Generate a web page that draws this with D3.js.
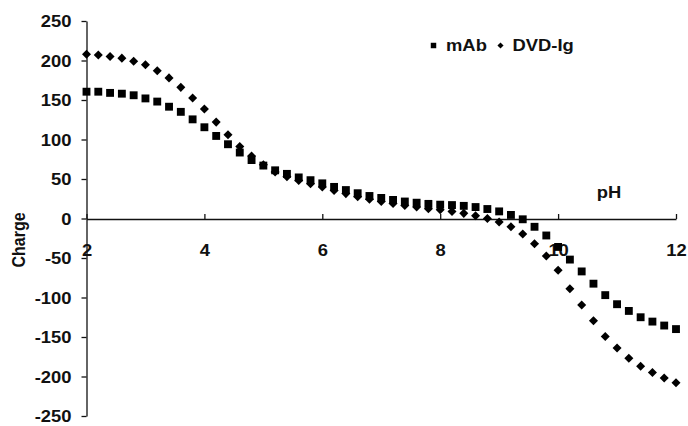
<!DOCTYPE html>
<html>
<head>
<meta charset="utf-8">
<script src="https://cdn.jsdelivr.net/npm/d3@7"></script>
<style>
  html, body { margin: 0; padding: 0; background: #fff; }
  svg { display: block; font-family: "Liberation Sans", Arial, sans-serif; font-weight: bold; }
</style>
</head>
<body>
<svg id="chart" width="688" height="426"></svg>
<script>
// pH titration points (0.2 pH steps)
const pH = [2.0, 2.2, 2.4, 2.6, 2.8, 3.0, 3.2, 3.4, 3.6, 3.8,
            4.0, 4.2, 4.4, 4.6, 4.8, 5.0, 5.2, 5.4, 5.6, 5.8,
            6.0, 6.2, 6.4, 6.6, 6.8, 7.0, 7.2, 7.4, 7.6, 7.8,
            8.0, 8.2, 8.4, 8.6, 8.8, 9.0, 9.2, 9.4, 9.6, 9.8,
            10.0, 10.2, 10.4, 10.6, 10.8, 11.0, 11.2, 11.4, 11.6, 11.8, 12.0];

// Net charge of the monoclonal antibody
const mAb = [160.5, 160.5, 159, 158, 156, 152, 148, 141.5, 135, 125.5,
             115.5, 104.5, 94, 83.5, 74, 67, 61, 56.5, 52, 48.5,
             44.5, 40, 36, 32, 28.5, 26, 23.5, 21.5, 20, 18.5,
             17.5, 17, 16, 14.5, 12, 9, 4.5, -1, -10.5, -21.5,
             -36, -52, -67, -82.5, -97, -108.5, -117, -125, -130.5, -135.5, -140];

// Net charge of the DVD-Ig molecule
const dvdIg = [208, 207, 205, 203, 199, 194.5, 187, 178, 166, 152.5,
               138.5, 122, 106, 91, 79, 68, 59, 53, 48, 44,
               40, 35.5, 31.5, 27.5, 24.5, 21.5, 19, 16.5, 14.5, 12.5,
               11, 9, 6.5, 3.5, 0, -4.5, -10.5, -19.5, -32, -47.5,
               -65.5, -89, -109.5, -129.5, -149.5, -164, -177, -187, -195, -202, -208];

const xTicks = [2, 4, 6, 8, 10, 12];
const yTicks = [250, 200, 150, 100, 50, 0, -50, -100, -150, -200, -250];
const seriesNames = ["mAb", "DVD-Ig"];

const svg = d3.select("#chart");
const ink = "#111";
const stretch = "scale(1.15,1)";
const plain = d => String(d);   // ASCII hyphen for negatives

const x = d3.scaleLinear().domain([2, 12]).range([86.5, 676]);
const y = d3.scaleLinear().domain([-250, 250]).range([416, 21]);

// Y axis on the left edge of the plot
const yAxis = svg.append("g")
  .attr("transform", `translate(${x(2)},0)`)
  .call(d3.axisLeft(y).tickValues(yTicks).tickFormat(plain)
    .tickSizeInner(5).tickSizeOuter(0).tickPadding(0));
yAxis.select(".domain").attr("stroke", ink).attr("stroke-width", 1.3);
yAxis.selectAll(".tick line").attr("stroke", ink).attr("stroke-width", 1.3);
yAxis.selectAll(".tick text")
  .attr("x", -13).attr("dy", "0.36em")
  .attr("transform", stretch)
  .attr("fill", ink).style("font-size", "16px").style("font-family", null).style("font-weight", "bold");

// X axis crossing at zero charge, ticks pointing up
const xAxis = svg.append("g")
  .attr("transform", `translate(0,${y(0) + 0.5})`)
  .call(d3.axisBottom(x).tickValues(xTicks).tickFormat(plain)
    .tickSizeInner(-5).tickSizeOuter(0));
xAxis.select(".domain").attr("stroke", ink).attr("stroke-width", 1.3);
xAxis.selectAll(".tick line").attr("stroke", ink).attr("stroke-width", 1.3);
xAxis.selectAll(".tick text")
  .attr("y", 37).attr("dy", 0)
  .attr("transform", stretch)
  .attr("fill", ink).style("font-size", "16px").style("font-family", null).style("font-weight", "bold");

// Axis titles
svg.append("text")
  .attr("transform", `translate(609,198) ${stretch}`)
  .attr("text-anchor", "middle")
  .attr("fill", ink).style("font-size", "16px")
  .text("pH");

svg.append("text")
  .attr("transform", `translate(24.5,240) ${stretch} rotate(-90)`)
  .attr("text-anchor", "middle")
  .attr("fill", ink).style("font-size", "16px")
  .text("Charge");

// Markers
const squareSym = d3.symbol().type(d3.symbolSquare).size(62);
const diamondSym = d3.symbol().type(d3.symbolDiamond2).size(52);

svg.append("g").selectAll("path")
  .data(pH.map((p, i) => [p, mAb[i]]))
  .join("path")
  .attr("d", squareSym)
  .attr("transform", d => `translate(${x(d[0])},${y(d[1])})`)
  .attr("fill", "#000");

svg.append("g").selectAll("path")
  .data(pH.map((p, i) => [p, dvdIg[i]]))
  .join("path")
  .attr("d", diamondSym)
  .attr("transform", d => `translate(${x(d[0])},${y(d[1])})`)
  .attr("fill", "#000");

// Legend
const legend = svg.append("g");
legend.append("path")
  .attr("d", d3.symbol().type(d3.symbolSquare).size(30))
  .attr("transform", "translate(433.5,45.5)")
  .attr("fill", "#000");
legend.append("text")
  .attr("transform", `translate(446,51) ${stretch}`)
  .attr("fill", ink).style("font-size", "16px")
  .text(seriesNames[0]);
legend.append("path")
  .attr("d", d3.symbol().type(d3.symbolDiamond2).size(24))
  .attr("transform", "translate(500.5,45.5)")
  .attr("fill", "#000");
legend.append("text")
  .attr("transform", `translate(512.5,51) ${stretch}`)
  .attr("fill", ink).style("font-size", "16px")
  .text(seriesNames[1]);
</script>
</body>
</html>
